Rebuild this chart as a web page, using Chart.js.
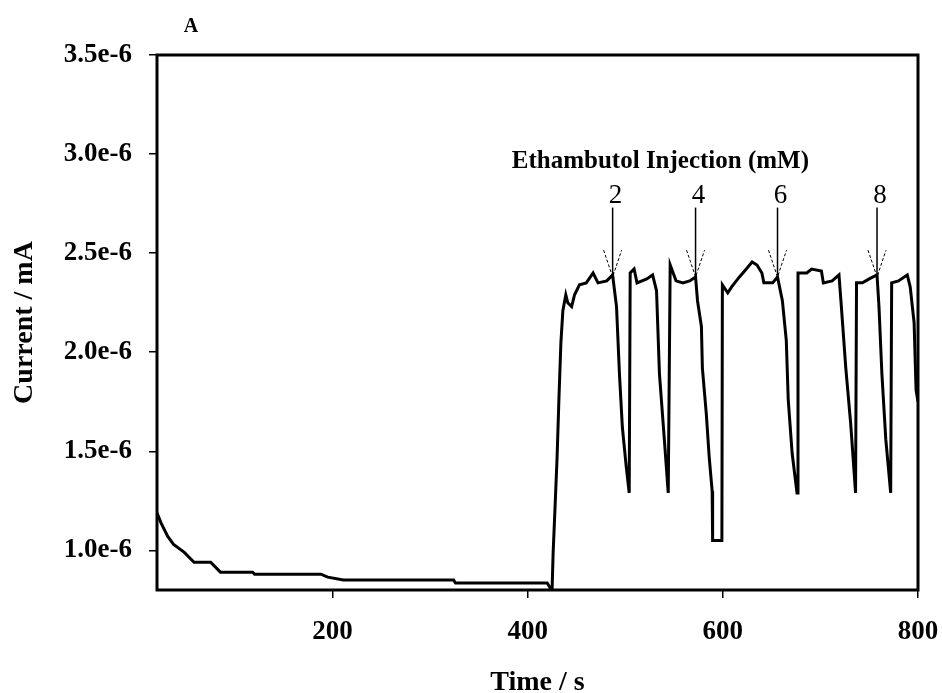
<!DOCTYPE html>
<html>
<head>
<meta charset="utf-8">
<script src="https://cdn.jsdelivr.net/npm/chart.js@4/dist/chart.umd.min.js"></script>
<style>
  html, body { margin: 0; padding: 0; background: #fff; }
  #wrap { width: 942px; height: 693px; }
</style>
</head>
<body>
<div id="wrap"><canvas id="trace"></canvas></div>
<script>
// amperometric trace (time in s, current in units of 1e-6)
const timeS = [
  20, 24, 31, 37, 48, 58, 75, 85, 118, 120, 188, 195, 211, 324, 326, 420, 423, 425,
  426, 428, 430, 432, 434, 436, 439, 441, 445, 448, 453, 460, 467, 472, 481, 487,
  491, 494, 497, 501, 504, 505, 509, 512, 522, 528, 532, 535, 540, 544,
  546, 552, 559, 566, 572, 574, 578, 579, 583, 586, 589, 589.5, 599,
  599.5, 605, 609, 617, 624, 630, 635, 640, 642, 651, 656, 661, 665, 667, 671, 676,
  677, 681, 686, 691, 701, 703, 712, 719, 721, 726, 731, 736,
  737, 743, 750, 758, 760, 763, 767, 772,
  773, 780, 789, 792, 796, 798, 800
];
const currentE6 = [
  1.19, 1.14, 1.07, 1.03, 0.99, 0.94, 0.94, 0.89, 0.89, 0.88, 0.88, 0.865, 0.85, 0.85, 0.835, 0.835, 0.81, 0.81,
  0.985, 1.22, 1.46, 1.77, 2.05, 2.21, 2.29, 2.25, 2.23, 2.29, 2.34, 2.35, 2.40, 2.35, 2.36, 2.39,
  2.23, 1.89, 1.62, 1.42, 1.29, 2.40, 2.42, 2.35, 2.37, 2.39, 2.31, 1.89, 1.56, 1.29,
  2.44, 2.36, 2.35, 2.36, 2.38, 2.26, 2.13, 1.92, 1.69, 1.47, 1.30, 1.05, 1.05,
  2.34, 2.30, 2.33, 2.38, 2.42, 2.455, 2.44, 2.40, 2.35, 2.35, 2.38, 2.26, 2.06, 1.76, 1.49, 1.29,
  2.40, 2.40, 2.40, 2.42, 2.41, 2.35, 2.36, 2.39, 2.26, 1.92, 1.64, 1.29,
  2.35, 2.35, 2.37, 2.39, 2.23, 1.89, 1.56, 1.29,
  2.35, 2.36, 2.39, 2.33, 2.15, 1.81, 1.75
];

const xTicks = [200, 400, 600, 800];
const yTicks = [1.0, 1.5, 2.0, 2.5, 3.0, 3.5];

// injection marks
const injTimes = [487, 572, 656, 758];
const injLabels = ['2', '4', '6', '8'];

const serif = '"Liberation Serif", "Times New Roman", serif';

const decor = {
  id: 'decor',
  afterDatasetsDraw(chart) {
    const { ctx, chartArea: a, scales: { x, y } } = chart;
    ctx.save();

    // frame
    ctx.strokeStyle = '#000';
    ctx.lineWidth = 3;
    ctx.strokeRect(a.left, a.top, a.right - a.left, a.bottom - a.top);

    ctx.fillStyle = '#000';
    ctx.textAlign = 'center';
    ctx.textBaseline = 'middle';

    // panel letter
    ctx.font = 'bold 20px ' + serif;
    ctx.fillText('A', a.left + 34, a.top - 28);

    // heading
    ctx.font = 'bold 25px ' + serif;
    ctx.fillText('Ethambutol Injection (mM)', x.getPixelForValue(536), y.getPixelForValue(2.96));

    // arrows with numbers
    ctx.font = '27px ' + serif;
    injTimes.forEach((t, i) => {
      const px = x.getPixelForValue(t);
      const tip = y.getPixelForValue(2.38);
      const top = y.getPixelForValue(2.73);
      const wing = y.getPixelForValue(2.515);
      ctx.fillText(injLabels[i], px + 3, y.getPixelForValue(2.79));
      ctx.lineWidth = 1.5;
      ctx.setLineDash([]);
      ctx.beginPath();
      ctx.moveTo(px, top);
      ctx.lineTo(px, tip);
      ctx.stroke();
      ctx.lineWidth = 1;
      ctx.setLineDash([3, 2]);
      ctx.beginPath();
      ctx.moveTo(px - 9, wing);
      ctx.lineTo(px, tip);
      ctx.lineTo(px + 9, wing);
      ctx.stroke();
    });
    ctx.restore();
  }
};

new Chart(document.getElementById('trace'), {
  type: 'line',
  data: {
    datasets: [{
      data: timeS.map((t, i) => ({ x: t, y: currentE6[i] })),
      borderColor: '#000',
      borderWidth: 3,
      pointRadius: 0,
      tension: 0,
      fill: false
    }]
  },
  options: {
    responsive: true,
    maintainAspectRatio: false,
    animation: false,
    layout: { padding: { top: 55, right: 24, left: 0, bottom: 0 } },
    plugins: { legend: { display: false }, tooltip: { enabled: false } },
    scales: {
      x: {
        type: 'linear',
        min: 20,
        max: 800,
        afterBuildTicks: s => { s.ticks = xTicks.map(v => ({ value: v })); },
        afterFit: s => { s.height = 103; s.paddingRight = 0; s.paddingLeft = 0; },
        border: { display: false },
        grid: { drawOnChartArea: false, tickLength: 8, color: '#000', lineWidth: 1.5 },
        ticks: {
          color: '#000',
          padding: 18,
          maxRotation: 0,
          font: { family: serif, size: 27, weight: 'bold' }
        },
        title: {
          display: true,
          text: 'Time / s',
          color: '#000',
          padding: { top: 0, bottom: -4 },
          font: { family: serif, size: 28, weight: 'bold', lineHeight: 1 }
        }
      },
      y: {
        min: 0.8,
        max: 3.5,
        afterBuildTicks: s => { s.ticks = yTicks.map(v => ({ value: v })); },
        afterFit: s => { s.width = 157; s.paddingTop = 0; s.paddingBottom = 0; },
        border: { display: false },
        grid: { drawOnChartArea: false, tickLength: 8, color: '#000', lineWidth: 1.5 },
        ticks: {
          color: '#000',
          padding: 17,
          font: { family: serif, size: 27, weight: 'bold' },
          callback: v => v.toFixed(1) + 'e-6'
        },
        title: {
          display: true,
          text: 'Current / mA',
          color: '#000',
          padding: { top: 11, bottom: 0 },
          font: { family: serif, size: 28, weight: 'bold', lineHeight: 1 }
        }
      }
    }
  },
  plugins: [decor]
});
</script>
</body>
</html>
